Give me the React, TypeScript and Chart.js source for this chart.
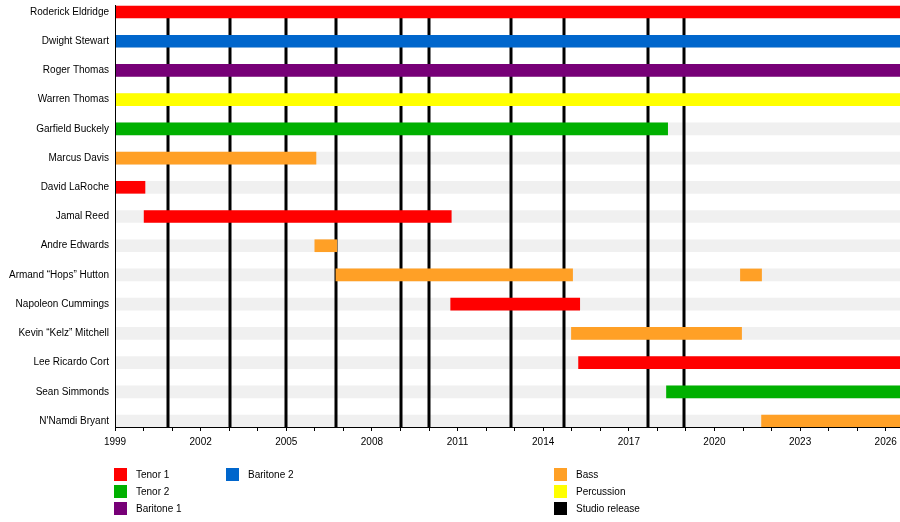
import { useEffect, useRef } from 'react';
import { Chart, registerables } from 'chart.js';
import type { ChartConfiguration, Plugin } from 'chart.js';

Chart.register(...registerables);

const START = 1999;
const END = 2026.5;

const members = [
  'Roderick Eldridge', 'Dwight Stewart', 'Roger Thomas', 'Warren Thomas', 'Garfield Buckely',
  'Marcus Davis', 'David LaRoche', 'Jamal Reed', 'Andre Edwards', 'Armand \u201cHops\u201d Hutton',
  'Napoleon Cummings', 'Kevin \u201cKelz\u201d Mitchell', 'Lee Ricardo Cort', 'Sean Simmonds', "N'Namdi Bryant",
];

// one entry per bar (Armand has two spells)
const spanMember = [0, 1, 2, 3, 4, 5, 6, 7, 8, 9, 9, 10, 11, 12, 13, 14];
const spanStart = [1999, 1999, 1999, 1999, 1999, 1999, 1999, 2000.02, 2006.0, 2006.74, 2020.91, 2010.76, 2014.99, 2015.24, 2018.32, 2021.65];
const spanEnd = [END, END, END, END, 2018.36, 2006.04, 2000.05, 2010.78, 2006.77, 2015.03, 2021.65, 2015.28, 2020.95, END, END, END];
const spanRole = ['Tenor 1', 'Baritone 2', 'Baritone 1', 'Percussion', 'Tenor 2', 'Bass', 'Tenor 1', 'Tenor 1', 'Bass', 'Bass', 'Bass', 'Tenor 1', 'Bass', 'Tenor 1', 'Tenor 2', 'Bass'];

const roles = ['Tenor 1', 'Tenor 2', 'Baritone 1', 'Baritone 2', 'Bass', 'Percussion'];
const roleColors = ['#ff0000', '#00b000', '#770077', '#0066cc', '#ffa026', '#ffff00'];

const releases = [2000.86, 2003.03, 2004.99, 2006.74, 2009.01, 2009.99, 2012.86, 2014.72, 2017.66, 2018.95];

const legendLabels = ['Tenor 1', 'Tenor 2', 'Baritone 1', 'Baritone 2', 'Bass', 'Percussion', 'Studio release'];
const legendColors = ['#ff0000', '#00b000', '#770077', '#0066cc', '#ffa026', '#ffff00', '#000000'];
const legendCol = [0, 0, 0, 1, 2, 2, 2];
const legendRow = [0, 1, 2, 0, 0, 1, 2];

const years = Array.from({ length: 2026 - START + 1 }, (_, i) => START + i);

const releaseLines: Plugin<'bar'> = {
  id: 'releaseLines',
  afterDatasetDraw(chart, args) {
    if (args.index !== 0) return;
    const { ctx, chartArea, scales } = chart;
    ctx.save();
    ctx.strokeStyle = '#000';
    ctx.lineWidth = 3;
    releases.forEach((r) => {
      const x = Math.round(scales.x.getPixelForValue(r));
      ctx.beginPath();
      ctx.moveTo(x, chartArea.top + 2);
      ctx.lineTo(x, chartArea.bottom);
      ctx.stroke();
    });
    ctx.restore();
  },
};

const legendBox: Plugin<'bar'> = {
  id: 'legendBox',
  afterDraw(chart) {
    const { ctx } = chart;
    const colX = [114, 226, 554];
    ctx.save();
    ctx.font = '10px "Liberation Sans", Arial, sans-serif';
    ctx.textBaseline = 'middle';
    legendLabels.forEach((label, i) => {
      const x = colX[legendCol[i]];
      const y = 468 + legendRow[i] * 17;
      ctx.fillStyle = legendColors[i];
      ctx.fillRect(x, y, 13, 13);
      ctx.fillStyle = '#000';
      ctx.fillText(label, x + 22, y + 7.5);
    });
    ctx.restore();
  },
};

export default function App() {
  const chartRef = useRef<HTMLCanvasElement>(null);
  const chartInstance = useRef<Chart | null>(null);

  useEffect(() => {
    document.body.style.margin = '0';
    if (!chartRef.current) return;
    const ctx = chartRef.current.getContext('2d');
    if (!ctx) return;

    Chart.defaults.font.family = '"Liberation Sans", Arial, sans-serif';
    Chart.defaults.font.size = 10;
    Chart.defaults.color = '#000';

    const background = {
      label: 'band',
      data: members.map((_, i) => ({ x: [START, END], y: i })),
      backgroundColor: '#f0f0f0',
      order: 2,
    };

    const roleSets = roles.map((role, r) => ({
      label: role,
      data: spanRole
        .map((sr, i) => (sr === role ? { x: [spanStart[i], spanEnd[i]], y: spanMember[i] } : null))
        .filter((d) => d !== null),
      backgroundColor: roleColors[r],
      order: 1,
    }));

    const config: ChartConfiguration<'bar'> = {
      type: 'bar',
      data: { datasets: [background, ...roleSets] as any },
      options: {
        indexAxis: 'y',
        responsive: false,
        animation: false,
        layout: { padding: { top: 5, left: 0, right: 0, bottom: 0 } },
        datasets: { bar: { barThickness: 12, grouped: false, borderWidth: 0, borderSkipped: false } },
        plugins: { legend: { display: false }, tooltip: { enabled: false } },
        scales: {
          x: {
            type: 'linear',
            min: START,
            max: END,
            afterBuildTicks: (axis) => { axis.ticks = years.map((v) => ({ value: v })); },
            afterFit: (axis: any) => {
              axis.height = 95;
              axis.paddingLeft = 0;
              axis.paddingRight = 0;
            },
            ticks: {
              autoSkip: false,
              maxRotation: 0,
              padding: 5,
              callback: (v) => ((Number(v) - START) % 3 === 0 ? String(v) : ''),
            },
            grid: { display: true, drawOnChartArea: false, drawTicks: true, tickLength: 4, color: '#000' },
            border: { display: true, color: '#000', width: 1, z: 1 },
          },
          y: {
            type: 'linear',
            reverse: true,
            offset: false,
            bounds: 'data',
            min: -0.24,
            max: 14.205,
            afterBuildTicks: (axis) => { axis.ticks = members.map((_, i) => ({ value: i })); },
            afterFit: (axis: any) => {
              axis.width = 115;
              axis.paddingTop = 0;
              axis.paddingBottom = 0;
            },
            ticks: {
              autoSkip: false,
              padding: 6,
              callback: (v) => members[Number(v)] ?? '',
            },
            grid: { display: true, offset: false, drawOnChartArea: false, drawTicks: false },
            border: { display: true, color: '#000', width: 1, z: 1 },
          },
        },
      },
      plugins: [releaseLines, legendBox],
    };

    if (chartInstance.current) { chartInstance.current.destroy(); }
    chartInstance.current = new Chart(ctx, config);

    return () => { if (chartInstance.current) { chartInstance.current.destroy(); } };
  }, []);

  return (
    <div style={{ width: 900, height: 522, background: '#fff' }}>
      <canvas ref={chartRef} width={900} height={522} style={{ width: 900, height: 522 }}></canvas>
    </div>
  );
}
